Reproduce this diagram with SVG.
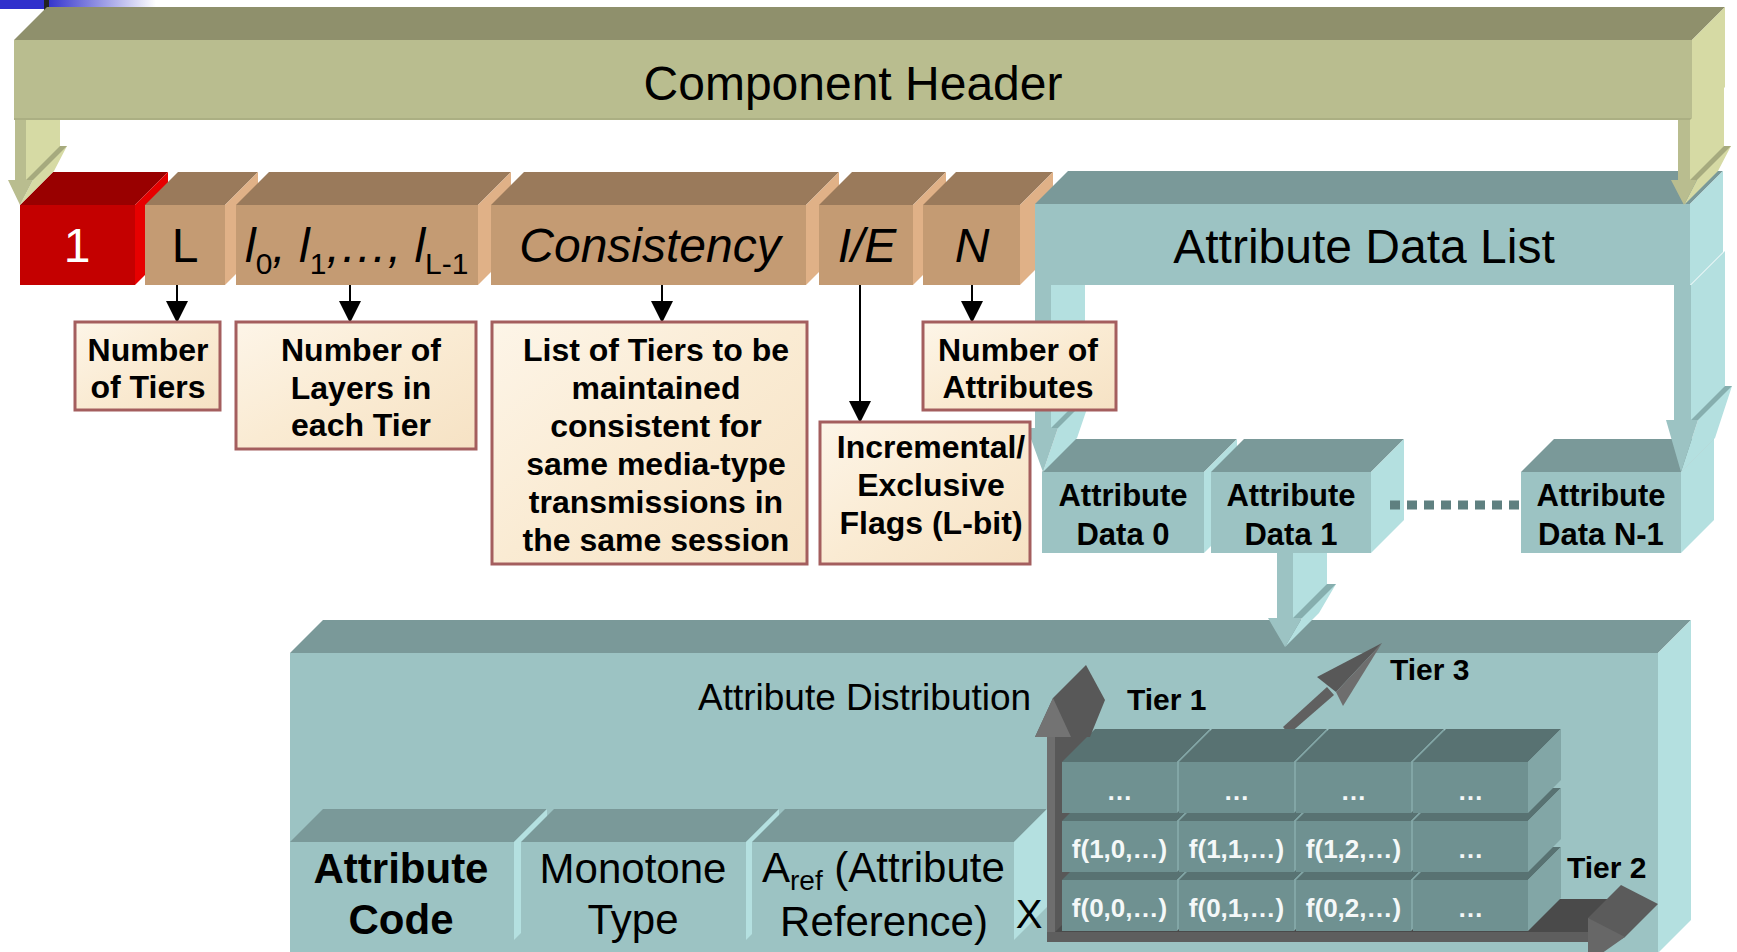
<svg xmlns="http://www.w3.org/2000/svg" width="1737" height="952" viewBox="0 0 1737 952">
<defs>
<style>
text { font-family: "Liberation Sans", Arial, Helvetica, sans-serif; fill: #000; }
.big { font-size: 48px; text-anchor: middle; }
.desc { font-size: 32px; font-weight: bold; text-anchor: middle; }
.ad { font-size: 31px; font-weight: bold; text-anchor: middle; }
.inner { font-size: 42px; text-anchor: middle; }
.cell { font-size: 26px; font-weight: bold; text-anchor: middle; fill: #F4F8F8; }
.tier { font-size: 30px; font-weight: bold; }
.ol-f { fill: #B9BD8F; } .ol-t { fill: #8F906C; } .ol-s { fill: #D6DAA4; } .ol-sh { fill: #A6AA7E; }
.br-f { fill: #C49B73; } .br-t { fill: #9A7A5B; } .br-s { fill: #E0B187; }
.rd-f { fill: #C40000; } .rd-t { fill: #990000; } .rd-s { fill: #E60000; }
.tl-f { fill: #9CC3C3; } .tl-t { fill: #7A9999; } .tl-s { fill: #B4E0E0; } .tl-sh { fill: #86AEAE; }
.ce-f { fill: #6F9191; } .ce-t { fill: #587272; } .ce-s { fill: #82A6A6; }
.gr-a { fill: #6E6E6E; } .gr-b { fill: #585858; } .gr-c { fill: #4A4A4A; }
.box { fill: url(#paper); stroke: #A45E5E; stroke-width: 3; }
.conn { stroke: #000; stroke-width: 2; fill: none; marker-end: url(#tip); }
</style>
<linearGradient id="paper" x1="0" y1="0" x2="1" y2="1">
<stop offset="0" stop-color="#FDF5E8"/>
<stop offset="0.5" stop-color="#FAEBD3"/>
<stop offset="1" stop-color="#F6E2C4"/>
</linearGradient>
<linearGradient id="blueFade" x1="0" y1="0" x2="1" y2="0">
<stop offset="0" stop-color="#3030CC"/>
<stop offset="1" stop-color="#3030CC" stop-opacity="0"/>
</linearGradient>
<marker id="tip" markerUnits="userSpaceOnUse" markerWidth="22" markerHeight="22" viewBox="0 0 22 22" refX="21" refY="11" orient="auto">
<path d="M0,0 L22,11 L0,22 z" fill="#000"/>
</marker>
</defs>

<!-- slide corner accent -->
<g id="corner-bar">
<rect x="0" y="0" width="46" height="9" fill="#3030CC"/>
<rect x="46" y="0" width="110" height="9" fill="url(#blueFade)"/>
<rect x="44" y="0" width="5" height="12" fill="#222"/>
</g>

<!-- attribute distribution container -->
<g id="attribute-distribution">
<polygon class="tl-t" points="290,653 323,620 1691,620 1658,653"/>
<polygon class="tl-s" points="1658,653 1691,620 1691,920 1658,953"/>
<rect class="tl-f" x="290" y="653" width="1368" height="300"/>
<text x="698" y="710" font-size="37">Attribute Distribution</text>
</g>

<g id="attribute-code">
<polygon class="tl-t" points="290,842 323,809 547,809 514,842"/>
<polygon class="tl-s" points="514,842 547,809 547,907 514,940"/>
<rect class="tl-f" x="290" y="842" width="224" height="98"/>
<text class="inner" x="401" y="883" font-weight="bold">Attribute</text>
<text class="inner" x="401" y="934" font-weight="bold">Code</text>
</g>

<g id="monotone-type">
<polygon class="tl-t" points="521,842 554,809 779,809 746,842"/>
<polygon class="tl-s" points="746,842 779,809 779,907 746,940"/>
<rect class="tl-f" x="521" y="842" width="225" height="98"/>
<text class="inner" x="633" y="883">Monotone</text>
<text class="inner" x="633" y="934">Type</text>
</g>

<g id="attribute-reference">
<polygon class="tl-t" points="752,842 785,809 1047,809 1014,842"/>
<polygon class="tl-s" points="1014,842 1047,809 1047,907 1014,940"/>
<rect class="tl-f" x="752" y="842" width="262" height="98"/>
<text x="762" y="882" font-size="42">A<tspan font-size="28" dy="8">ref</tspan><tspan dy="-8"> (Attribute</tspan></text>
<text class="inner" x="884" y="936">Reference)</text>
<text x="1029" y="928" font-size="40" text-anchor="middle">X</text>
</g>

<!-- tier axes, rear parts -->
<g id="tier-axes-back">
<polygon class="gr-b" points="1055,942 1055,735 1088,702 1088,909"/>
<polygon class="gr-c" points="1055,932 1088,899 1621,899 1590,932"/>
<polygon fill="#606060" points="1283,727 1289,734 1334,695 1327,687"/>
<polygon class="gr-b" points="1317,677 1382,643 1336,692"/>
<polygon class="gr-a" points="1336,692 1382,643 1343,706"/>
</g>

<!-- tier grid -->
<g id="tier-grid">
<g id="row-0">
<polygon class="ce-t" points="1062,880 1095,847 1210,847 1177,880"/><polygon class="ce-s" points="1177,880 1210,847 1210,898 1177,931"/><rect class="ce-f" x="1062" y="880" width="115" height="51"/>
<polygon class="ce-t" points="1179,880 1212,847 1327,847 1294,880"/><polygon class="ce-s" points="1294,880 1327,847 1327,898 1294,931"/><rect class="ce-f" x="1179" y="880" width="115" height="51"/>
<polygon class="ce-t" points="1296,880 1329,847 1444,847 1411,880"/><polygon class="ce-s" points="1411,880 1444,847 1444,898 1411,931"/><rect class="ce-f" x="1296" y="880" width="115" height="51"/>
<polygon class="ce-t" points="1413,880 1446,847 1561,847 1528,880"/><polygon class="ce-s" points="1528,880 1561,847 1561,898 1528,931"/><rect class="ce-f" x="1413" y="880" width="115" height="51"/>
<text class="cell" x="1119.5" y="917">f(0,0,…)</text>
<text class="cell" x="1236.5" y="917">f(0,1,…)</text>
<text class="cell" x="1353.5" y="917">f(0,2,…)</text>
<text class="cell" x="1470.5" y="917">…</text>
</g>
<g id="row-1">
<polygon class="ce-t" points="1062,821 1095,788 1210,788 1177,821"/><polygon class="ce-s" points="1177,821 1210,788 1210,839 1177,872"/><rect class="ce-f" x="1062" y="821" width="115" height="51"/>
<polygon class="ce-t" points="1179,821 1212,788 1327,788 1294,821"/><polygon class="ce-s" points="1294,821 1327,788 1327,839 1294,872"/><rect class="ce-f" x="1179" y="821" width="115" height="51"/>
<polygon class="ce-t" points="1296,821 1329,788 1444,788 1411,821"/><polygon class="ce-s" points="1411,821 1444,788 1444,839 1411,872"/><rect class="ce-f" x="1296" y="821" width="115" height="51"/>
<polygon class="ce-t" points="1413,821 1446,788 1561,788 1528,821"/><polygon class="ce-s" points="1528,821 1561,788 1561,839 1528,872"/><rect class="ce-f" x="1413" y="821" width="115" height="51"/>
<text class="cell" x="1119.5" y="858">f(1,0,…)</text>
<text class="cell" x="1236.5" y="858">f(1,1,…)</text>
<text class="cell" x="1353.5" y="858">f(1,2,…)</text>
<text class="cell" x="1470.5" y="858">…</text>
</g>
<g id="row-2">
<polygon class="ce-t" points="1062,762 1095,729 1210,729 1177,762"/><polygon class="ce-s" points="1177,762 1210,729 1210,780 1177,813"/><rect class="ce-f" x="1062" y="762" width="115" height="51"/>
<polygon class="ce-t" points="1179,762 1212,729 1327,729 1294,762"/><polygon class="ce-s" points="1294,762 1327,729 1327,780 1294,813"/><rect class="ce-f" x="1179" y="762" width="115" height="51"/>
<polygon class="ce-t" points="1296,762 1329,729 1444,729 1411,762"/><polygon class="ce-s" points="1411,762 1444,729 1444,780 1411,813"/><rect class="ce-f" x="1296" y="762" width="115" height="51"/>
<polygon class="ce-t" points="1413,762 1446,729 1561,729 1528,762"/><polygon class="ce-s" points="1528,762 1561,729 1561,780 1528,813"/><rect class="ce-f" x="1413" y="762" width="115" height="51"/>
<text class="cell" x="1119.5" y="800">…</text>
<text class="cell" x="1236.5" y="800">…</text>
<text class="cell" x="1353.5" y="800">…</text>
<text class="cell" x="1470.5" y="800">…</text>
</g>
</g>

<!-- tier axes, front parts and labels -->
<g id="tier-axes">
<rect class="gr-a" x="1047" y="735" width="8" height="207"/>
<polygon class="gr-b" points="1035,737 1053,698 1086,665 1105,700 1090,737"/>
<polygon fill="#737373" points="1035,737 1053,698 1071,737"/>
<rect fill="#5E5E5E" x="1047" y="932" width="543" height="10"/>
<polygon fill="#5B5B5B" points="1588,918 1621,885 1658,904 1625,937 1588,956"/>
<polygon fill="#676767" points="1588,918 1625,937 1598,956 1588,956"/>
<text class="tier" x="1127" y="710">Tier 1</text>
<text class="tier" x="1390" y="680">Tier 3</text>
<text class="tier" x="1567" y="878">Tier 2</text>
</g>

<!-- attribute data entries -->
<g id="attribute-data-0">
<polygon class="tl-t" points="1042,472 1075,439 1237,439 1204,472"/>
<polygon class="tl-s" points="1204,472 1237,439 1237,520 1204,553"/>
<rect class="tl-f" x="1042" y="472" width="162" height="81"/>
<text class="ad" x="1123" y="506">Attribute</text>
<text class="ad" x="1123" y="545">Data 0</text>
</g>
<g id="attribute-data-1">
<polygon class="tl-t" points="1211,472 1244,439 1404,439 1371,472"/>
<polygon class="tl-s" points="1371,472 1404,439 1404,520 1371,553"/>
<rect class="tl-f" x="1211" y="472" width="160" height="81"/>
<text class="ad" x="1291" y="506">Attribute</text>
<text class="ad" x="1291" y="545">Data 1</text>
</g>
<g id="attribute-data-n-1">
<polygon class="tl-t" points="1521,472 1554,439 1714,439 1681,472"/>
<polygon class="tl-s" points="1681,472 1714,439 1714,520 1681,553"/>
<rect class="tl-f" x="1521" y="472" width="160" height="81"/>
<text class="ad" x="1601" y="506">Attribute</text>
<text class="ad" x="1601" y="545">Data N-1</text>
</g>

<!-- component fields -->
<g id="field-one">
<polygon class="rd-t" points="20,205 53,172 168,172 135,205"/>
<polygon class="rd-s" points="135,205 168,172 168,252 135,285"/>
<rect class="rd-f" x="20" y="205" width="115" height="80"/>
<text class="big" x="77" y="262" style="fill:#fff">1</text>
</g>
<g id="field-l">
<polygon class="br-t" points="145,205 178,172 258,172 225,205"/>
<polygon class="br-s" points="225,205 258,172 258,252 225,285"/>
<rect class="br-f" x="145" y="205" width="80" height="80"/>
<text class="big" x="185" y="262">L</text>
</g>
<g id="field-layers">
<polygon class="br-t" points="236,205 269,172 511,172 478,205"/>
<polygon class="br-s" points="478,205 511,172 511,252 478,285"/>
<rect class="br-f" x="236" y="205" width="242" height="80"/>
<text x="245" y="262" font-size="48"><tspan font-style="italic">l</tspan><tspan font-size="30" dy="12">0</tspan><tspan font-style="italic" dy="-12">, l</tspan><tspan font-size="30" dy="12">1</tspan><tspan font-style="italic" dy="-12">,…, l</tspan><tspan font-size="30" dy="12">L-1</tspan></text>
</g>
<g id="field-consistency">
<polygon class="br-t" points="491,205 524,172 839,172 806,205"/>
<polygon class="br-s" points="806,205 839,172 839,252 806,285"/>
<rect class="br-f" x="491" y="205" width="315" height="80"/>
<text class="big" x="650" y="262" font-style="italic">Consistency</text>
</g>
<g id="field-ie">
<polygon class="br-t" points="819,205 852,172 946,172 913,205"/>
<polygon class="br-s" points="913,205 946,172 946,252 913,285"/>
<rect class="br-f" x="819" y="205" width="94" height="80"/>
<text class="big" x="867" y="262" font-style="italic">I/E</text>
</g>
<g id="field-n">
<polygon class="br-t" points="923,205 956,172 1053,172 1020,205"/>
<polygon class="br-s" points="1020,205 1053,172 1053,252 1020,285"/>
<rect class="br-f" x="923" y="205" width="97" height="80"/>
<text class="big" x="972" y="262" font-style="italic">N</text>
</g>
<g id="attribute-data-list">
<polygon class="tl-t" points="1035,204 1068,171 1723,171 1690,204"/>
<polygon class="tl-s" points="1690,204 1723,171 1723,252 1690,285"/>
<rect class="tl-f" x="1035" y="204" width="655" height="81"/>
<text class="big" x="1364" y="263" font-size="47">Attribute Data List</text>
</g>

<g id="component-header">
<polygon class="ol-t" points="14,40 47,7 1725,7 1692,40"/>
<polygon class="ol-s" points="1692,40 1725,7 1725,87 1692,120"/>
<rect class="ol-f" x="14" y="40" width="1678" height="80"/>
<rect x="14" y="118" width="1678" height="2" fill="#ABAF83"/>
<text class="big" x="853" y="100">Component Header</text>
</g>

<!-- connectors: block arrows, pointer arrows and the list ellipsis -->
<g id="connectors">
<g id="header-to-first">
<polygon class="ol-s" points="26,120 60,120 60,146 67,146 54,171 20,205 33,180 26,180"/>
<polygon class="ol-sh" points="26,180 33,180 67,146 60,146"/>
<polygon class="ol-f" points="15,120 26,120 26,180 33,180 20,205 8,180 15,180"/>
</g>
<g id="header-to-list">
<polygon class="ol-s" points="1690,120 1724,86 1724,146 1731,146 1718,171 1684,205 1697,180 1690,180"/>
<polygon class="ol-sh" points="1690,180 1697,180 1731,146 1724,146"/>
<polygon class="ol-f" points="1678,120 1690,120 1690,180 1697,180 1684,205 1671,180 1678,180"/>
</g>
<g id="list-to-data-0">
<polygon class="tl-s" points="1051,285 1085,285 1085,394 1092,394 1077,438 1043,472 1058,428 1051,428"/>
<polygon class="tl-sh" points="1051,428 1058,428 1092,394 1085,394"/>
<polygon class="tl-f" points="1035,285 1051,285 1051,428 1058,428 1043,472 1027,428 1035,428"/>
</g>
<g id="list-to-data-n-1">
<polygon class="tl-s" points="1691,285 1725,251 1725,386 1732,386 1715,438 1681,472 1698,420 1691,420"/>
<polygon class="tl-sh" points="1691,420 1698,420 1732,386 1725,386"/>
<polygon class="tl-f" points="1674,285 1691,285 1691,420 1698,420 1681,472 1666,420 1674,420"/>
</g>
<g id="data-1-to-distribution">
<polygon class="tl-s" points="1293,553 1327,553 1327,584 1336,584 1319,613 1285,647 1302,618 1293,618"/>
<polygon class="tl-sh" points="1293,618 1302,618 1336,584 1327,584"/>
<polygon class="tl-f" points="1277,553 1293,553 1293,618 1302,618 1285,647 1268,618 1277,618"/>
</g>
<line x1="1390" y1="505" x2="1521" y2="505" stroke="#5F8080" stroke-width="9" stroke-dasharray="10 7"/>
<line class="conn" x1="177" y1="285" x2="177" y2="322"/>
<line class="conn" x1="350" y1="285" x2="350" y2="322"/>
<line class="conn" x1="662" y1="285" x2="662" y2="322"/>
<line class="conn" x1="860" y1="285" x2="860" y2="422"/>
<line class="conn" x1="972" y1="285" x2="972" y2="322"/>
</g>

<!-- field descriptions -->
<g id="desc-tiers">
<rect class="box" x="75" y="322" width="145" height="88"/>
<text class="desc" x="148" y="361">Number</text>
<text class="desc" x="148" y="398">of Tiers</text>
</g>
<g id="desc-layers">
<rect class="box" x="236" y="322" width="240" height="127"/>
<text class="desc" x="361" y="361">Number of</text>
<text class="desc" x="361" y="399">Layers in</text>
<text class="desc" x="361" y="436">each Tier</text>
</g>
<g id="desc-consistency">
<rect class="box" x="492" y="322" width="315" height="242"/>
<text class="desc" x="656" y="361">List of Tiers to be</text>
<text class="desc" x="656" y="399">maintained</text>
<text class="desc" x="656" y="437">consistent for</text>
<text class="desc" x="656" y="475">same media-type</text>
<text class="desc" x="656" y="513">transmissions in</text>
<text class="desc" x="656" y="551">the same session</text>
</g>
<g id="desc-flags">
<rect class="box" x="820" y="422" width="210" height="142"/>
<text class="desc" x="931" y="458">Incremental/</text>
<text class="desc" x="931" y="496">Exclusive</text>
<text class="desc" x="931" y="534">Flags (L-bit)</text>
</g>
<g id="desc-attributes">
<rect class="box" x="923" y="322" width="193" height="88"/>
<text class="desc" x="1018" y="361">Number of</text>
<text class="desc" x="1018" y="398">Attributes</text>
</g>
</svg>
